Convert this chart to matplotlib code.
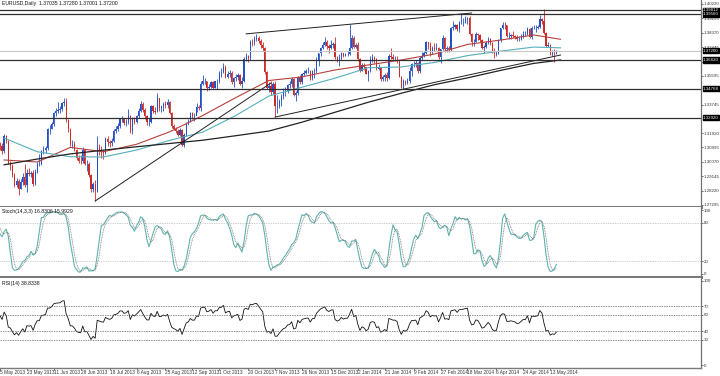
import numpy as np
import pandas as pd
import matplotlib
matplotlib.use("Agg")
import matplotlib.pyplot as plt
import matplotlib.transforms as mtransforms

plt.rcParams["font.family"] = ["Liberation Sans", "DejaVu Sans"]

# EURUSD daily bars, prices in pips above 1.0000
# first 20 bars (April 2013) are only history for the indicators
first_date = "2013-04-08"
n_hist = 20

opens = [
    3045, 3055, 3070, 3135, 3110, 3110, 3050, 3190, 3035, 3050, 3050, 3030, 2995, 3020, 3035, 3030, 3085, 3170, 3185, 3110,
    3115, 3110, 3075, 3175, 3140, 2995, 2980, 2920, 2860, 2885, 2835, 2875, 2910, 2855, 2935, 2930, 2935, 2865, 2940, 2995,
    2995, 3075, 3085, 3095, 3220, 3220, 3250, 3320, 3335, 3340, 3345, 3385, 3395, 3275, 3220, 3120, 3120, 3085, 3030, 3015,
    3010, 3085, 2990, 2995, 2920, 2830, 2865, 2820, 3100, 3085, 3070, 3065, 3155, 3135, 3125, 3140, 3205, 3215, 3235, 3280, 3280, 3255, 3265,
    3300, 3205, 3280, 3265, 3300, 3335, 3380, 3340, 3300, 3265, 3265, 3365, 3335, 3330, 3415, 3355, 3360, 3380, 3370, 3395, 3320, 3240,
    3220, 3205, 3180, 3210, 3115, 3180, 3255, 3270, 3320, 3300, 3300, 3360, 3355, 3505, 3525, 3525, 3480, 3490, 3520, 3485, 3525,
    3525, 3580, 3585, 3620, 3555, 3575, 3580, 3520, 3545, 3555, 3565, 3510, 3525, 3670, 3685, 3675, 3780, 3775, 3800, 3805, 3785, 3760, 3740,
    3585, 3485, 3495, 3455, 3510, 3365, 3365, 3400, 3430, 3455, 3465, 3500, 3505, 3540, 3440, 3450, 3555, 3520, 3570, 3580, 3590,
    3590, 3545, 3590, 3590, 3665, 3705, 3740, 3760, 3780, 3750, 3740, 3760, 3765, 3680, 3665, 3675, 3705, 3690, 3700, 3700, 3740, 3805,
    3745, 3760, 3670, 3590, 3630, 3615, 3575, 3590, 3665, 3675, 3670, 3605, 3615, 3540, 3550, 3565, 3545, 3690, 3680, 3670, 3670, 3655, 3555,
    3485, 3525, 3515, 3530, 3590, 3635, 3635, 3640, 3590, 3675, 3690, 3710, 3780, 3765, 3720, 3740, 3735, 3740, 3680, 3730,
    3805, 3735, 3740, 3730, 3865, 3875, 3885, 3860, 3905, 3910, 3915, 3925, 3930, 3830, 3775, 3780, 3830, 3825, 3790, 3740, 3745,
    3770, 3795, 3770, 3720, 3700, 3705, 3790, 3865, 3890, 3885, 3815, 3815, 3820, 3815, 3810, 3795, 3800, 3815, 3830, 3830, 3860, 3810,
    3870, 3870, 3870, 3875, 3925, 3910, 3835, 3755, 3760, 3700, 3710, 3704,
]
highs = [
    3075, 3085, 3140, 3140, 3130, 3120, 3200, 3200, 3075, 3085, 3075, 3045, 3035, 3055, 3055, 3095, 3175, 3205, 3195, 3175,
    3135, 3125, 3185, 3180, 3145, 3010, 2995, 2935, 2905, 2895, 2895, 2935, 2990, 2960, 2965, 2945, 2955, 2960, 3005, 3060,
    3085, 3110, 3110, 3225, 3245, 3260, 3325, 3350, 3390, 3365, 3395, 3415, 3415, 3285, 3225, 3150, 3140, 3090, 3050, 3050,
    3100, 3090, 3020, 3005, 2930, 2875, 2890, 3170, 3120, 3110, 3085, 3165, 3175, 3150, 3160, 3215, 3235, 3255, 3290, 3300, 3290, 3280, 3345,
    3310, 3295, 3295, 3310, 3350, 3400, 3395, 3350, 3310, 3290, 3370, 3375, 3360, 3450, 3420, 3375, 3390, 3400, 3410, 3400, 3330, 3250,
    3230, 3220, 3225, 3220, 3190, 3260, 3285, 3325, 3330, 3320, 3385, 3370, 3525, 3568, 3545, 3530, 3505, 3530, 3525, 3530, 3540,
    3590, 3610, 3645, 3630, 3590, 3595, 3590, 3550, 3575, 3580, 3575, 3555, 3680, 3705, 3695, 3790, 3800, 3815, 3832, 3815, 3795, 3775, 3745,
    3590, 3520, 3530, 3520, 3525, 3435, 3410, 3445, 3480, 3490, 3510, 3530, 3550, 3545, 3465, 3560, 3565, 3580, 3600, 3605, 3620,
    3600, 3600, 3610, 3680, 3710, 3745, 3780, 3810, 3790, 3765, 3790, 3780, 3810, 3690, 3700, 3715, 3710, 3705, 3720, 3893, 3825, 3815,
    3770, 3775, 3675, 3645, 3645, 3620, 3600, 3685, 3700, 3690, 3675, 3635, 3620, 3565, 3580, 3585, 3700, 3740, 3700, 3685, 3690, 3660, 3560,
    3540, 3535, 3545, 3620, 3645, 3655, 3665, 3650, 3685, 3715, 3720, 3785, 3775, 3775, 3755, 3770, 3770, 3745, 3735, 3825,
    3810, 3755, 3755, 3875, 3915, 3895, 3895, 3915, 3967, 3935, 3945, 3940, 3945, 3835, 3800, 3845, 3835, 3830, 3800, 3760, 3785,
    3810, 3805, 3780, 3740, 3720, 3800, 3870, 3905, 3905, 3890, 3840, 3830, 3850, 3825, 3820, 3815, 3830, 3850, 3850, 3875, 3865, 3880,
    3885, 3890, 3890, 3950, 3935, 3993, 3840, 3775, 3765, 3725, 3735, 3728,
]
lows = [
    3030, 3045, 3060, 3095, 3080, 3035, 3045, 3030, 3010, 3030, 3015, 2955, 2985, 3005, 3010, 3025, 3075, 3150, 3090, 3080,
    3085, 3060, 3065, 3125, 2990, 2955, 2910, 2845, 2845, 2795, 2830, 2860, 2845, 2815, 2915, 2910, 2850, 2860, 2935, 2980,
    2985, 3060, 3065, 3085, 3185, 3215, 3240, 3300, 3320, 3320, 3335, 3365, 3265, 3200, 3110, 3095, 3075, 3020, 3000, 2995,
    3000, 2985, 2945, 2910, 2810, 2810, 2755, 2810, 3050, 3030, 3025, 3055, 3110, 3100, 3110, 3135, 3190, 3205, 3225, 3260, 3245, 3240, 3250,
    3190, 3185, 3250, 3255, 3290, 3325, 3325, 3285, 3245, 3240, 3255, 3320, 3315, 3325, 3335, 3325, 3335, 3350, 3355, 3315, 3225, 3210,
    3195, 3170, 3175, 3110, 3105, 3175, 3245, 3260, 3280, 3270, 3330, 3340, 3335, 3500, 3505, 3465, 3470, 3480, 3475, 3480, 3475,
    3515, 3550, 3580, 3545, 3545, 3555, 3505, 3490, 3525, 3535, 3500, 3480, 3520, 3655, 3650, 3665, 3755, 3760, 3785, 3770, 3740, 3720, 3575,
    3475, 3455, 3440, 3445, 3295, 3320, 3355, 3365, 3410, 3430, 3450, 3485, 3490, 3430, 3400, 3440, 3510, 3510, 3560, 3570, 3580,
    3535, 3535, 3545, 3580, 3625, 3690, 3730, 3750, 3735, 3710, 3735, 3740, 3670, 3650, 3625, 3665, 3680, 3685, 3690, 3695, 3730, 3740,
    3740, 3655, 3585, 3590, 3600, 3570, 3530, 3585, 3650, 3640, 3600, 3595, 3525, 3525, 3530, 3525, 3540, 3670, 3660, 3655, 3640, 3550, 3480,
    3477, 3500, 3505, 3515, 3560, 3620, 3620, 3580, 3580, 3665, 3680, 3700, 3735, 3685, 3700, 3720, 3725, 3670, 3645, 3725,
    3715, 3715, 3715, 3720, 3855, 3860, 3850, 3845, 3895, 3880, 3900, 3895, 3820, 3750, 3750, 3775, 3790, 3780, 3735, 3705, 3740,
    3765, 3760, 3705, 3673, 3685, 3700, 3775, 3860, 3860, 3810, 3795, 3800, 3805, 3800, 3785, 3785, 3790, 3805, 3815, 3825, 3805, 3800,
    3860, 3840, 3860, 3865, 3895, 3830, 3745, 3745, 3695, 3690, 3648, 3700,
]
closes = [
    3055, 3070, 3135, 3110, 3110, 3050, 3190, 3035, 3050, 3050, 3030, 2995, 3020, 3035, 3030, 3085, 3170, 3185, 3110, 3115,
    3110, 3075, 3175, 3140, 2995, 2980, 2920, 2860, 2885, 2835, 2875, 2910, 2855, 2935, 2930, 2935, 2865, 2940, 2995, 2995,
    3075, 3085, 3095, 3220, 3220, 3250, 3320, 3335, 3340, 3345, 3385, 3395, 3275, 3220, 3120, 3120, 3085, 3030, 3015, 3010,
    3085, 2990, 2995, 2920, 2830, 2865, 2820, 3100, 3085, 3070, 3065, 3155, 3135, 3125, 3140, 3205, 3215, 3235, 3280, 3280, 3255, 3265, 3300,
    3205, 3280, 3265, 3300, 3335, 3380, 3340, 3300, 3265, 3265, 3365, 3335, 3330, 3415, 3355, 3360, 3380, 3370, 3395, 3320, 3240, 3220,
    3205, 3180, 3210, 3115, 3180, 3255, 3270, 3320, 3300, 3300, 3360, 3355, 3505, 3525, 3525, 3480, 3490, 3520, 3485, 3525, 3525,
    3580, 3585, 3620, 3555, 3575, 3580, 3520, 3545, 3555, 3565, 3510, 3525, 3670, 3685, 3675, 3780, 3775, 3800, 3805, 3785, 3760, 3740, 3585,
    3485, 3495, 3455, 3510, 3365, 3365, 3400, 3430, 3455, 3465, 3500, 3505, 3540, 3440, 3450, 3555, 3520, 3570, 3580, 3590, 3590,
    3545, 3590, 3590, 3665, 3705, 3740, 3760, 3780, 3750, 3740, 3760, 3765, 3680, 3665, 3675, 3705, 3690, 3700, 3700, 3740, 3805, 3745,
    3760, 3670, 3590, 3630, 3615, 3575, 3590, 3665, 3675, 3670, 3605, 3615, 3540, 3550, 3565, 3545, 3690, 3680, 3670, 3670, 3655, 3555, 3485,
    3525, 3515, 3530, 3590, 3635, 3635, 3640, 3590, 3675, 3690, 3710, 3780, 3765, 3720, 3740, 3735, 3740, 3680, 3730, 3805,
    3735, 3740, 3730, 3865, 3875, 3885, 3860, 3905, 3910, 3915, 3925, 3930, 3830, 3775, 3780, 3830, 3825, 3790, 3740, 3745, 3770,
    3795, 3770, 3720, 3700, 3705, 3790, 3865, 3890, 3885, 3815, 3815, 3820, 3815, 3810, 3795, 3800, 3815, 3830, 3830, 3860, 3810, 3870,
    3870, 3870, 3875, 3925, 3910, 3835, 3755, 3760, 3700, 3710, 3704, 3720,
]

# moving averages (bar number counted from 6 May 2013)
ma_bars = [2, 18, 34, 50, 66, 82, 98, 114, 130, 146, 162, 178, 194, 210, 226, 242, 258, 271]
ma_red = [1.3019, 1.3006, 1.3100, 1.3072, 1.3120, 1.3200, 1.3305, 1.3420, 1.3530, 1.3553, 1.3598,
          1.3630, 1.3662, 1.3700, 1.3762, 1.3790, 1.3823, 1.3795]
ma_teal = [1.3160, 1.3072, 1.3040, 1.3038, 1.3083, 1.3145, 1.3198, 1.3305, 1.3430, 1.3487, 1.3545,
           1.3612, 1.3617, 1.3646, 1.3690, 1.3719, 1.3745, 1.3740]
ma_black = [1.2988, 1.3025, 1.3058, 1.3082, 1.3104, 1.3125, 1.3146, 1.3175, 1.3205, 1.3262, 1.3326,
            1.3390, 1.3448, 1.3503, 1.3547, 1.3595, 1.3640, 1.3662]

# trend lines: start bar/price, end bar/price
tl_bar0 = [46, 133, 119]
tl_px0 = [1.2755, 1.3295, 1.3830]
tl_bar1 = [131, 271, 228]
tl_px1 = [1.3514, 1.3694, 1.3964]

levels = [1.39812, 1.39560, 1.36620, 1.34768, 1.32920]
last_price = 1.37200

price_ticks = [1.40220, 1.39295, 1.38370, 1.37445, 1.36520, 1.35595, 1.33745,
               1.31920, 1.30995, 1.30070, 1.29145, 1.28220, 1.27295]

date_labels = ["5 May 2013", "23 May 2013", "11 Jun 2013", "28 Jun 2013", "18 Jul 2013", "6 Aug 2013",
               "25 Aug 2013", "12 Sep 2013", "1 Oct 2013", "20 Oct 2013", "7 Nov 2013", "26 Nov 2013",
               "15 Dec 2013", "2 Jan 2014", "21 Jan 2014", "9 Feb 2014", "27 Feb 2014", "18 Mar 2014",
               "6 Apr 2014", "24 Apr 2014", "13 May 2014"]

title = "EURUSD,Daily  1.37035 1.37280 1.37001 1.37200"
stoch_title = "Stoch(14,3,3) 16.8306 15.9929"
rsi_title = "RSI(14) 38.8338"

o = 1 + np.array(opens) / 1e4
h = 1 + np.array(highs) / 1e4
l = 1 + np.array(lows) / 1e4
c = 1 + np.array(closes) / 1e4
x = np.arange(len(c)) - n_hist
dates = pd.bdate_range(first_date, periods=len(c))

# indicators
cs, hs, ls = pd.Series(c), pd.Series(h), pd.Series(l)
hh = hs.rolling(14).max()
ll = ls.rolling(14).min()
k = (cs - ll).rolling(3).sum() / (hh - ll).rolling(3).sum() * 100
d = k.rolling(3).mean()
delta = cs.diff()
gain = delta.clip(lower=0).ewm(alpha=1 / 14, adjust=False).mean()
loss = (-delta.clip(upper=0)).ewm(alpha=1 / 14, adjust=False).mean()
rsi = 100 - 100 / (1 + gain / loss)

fs = 3.2
fig = plt.figure(figsize=(7.2, 3.76), dpi=100)
W = 701 / 720
ax1 = fig.add_axes([0, 169 / 376, W, 207 / 376])
ax2 = fig.add_axes([0, 99 / 376, W, 70 / 376], sharex=ax1)
ax3 = fig.add_axes([0, 8 / 376, W, 90 / 376], sharex=ax1)

for ax in (ax1, ax2, ax3):
    ax.spines["left"].set_visible(False)
    ax.spines["top"].set_visible(False)
    ax.spines["right"].set_color("#707070")
    ax.spines["right"].set_linewidth(0.9)
    ax.spines["bottom"].set_color("#7a7a7a")
    ax.yaxis.tick_right()
    ax.tick_params(axis="y", labelsize=fs, length=1.5, width=0.5, pad=0.6, colors="#333333")
    ax.tick_params(axis="x", labelsize=fs + 0.2, length=1.5, width=0.5, pad=0.2, colors="#333333")
ax1.spines["bottom"].set_linewidth(2.2)
ax2.spines["bottom"].set_linewidth(2.2)
ax3.spines["bottom"].set_linewidth(1.0)

ax1.set_xlim(2.44, 338.9)
ax1.set_ylim(1.27166, 1.40477)

# candles
bull = c >= o
col = np.where(bull, "#2450c4", "#cc2b28")
ax1.vlines(x, l, h, colors=col, lw=0.6)
ax1.bar(x, np.maximum(np.abs(c - o), 0.00008), bottom=np.minimum(o, c), width=0.62,
        color=col, lw=0)

ax1.plot(ma_bars, ma_red, color="#b5403a", lw=0.8)
ax1.plot(ma_bars, ma_teal, color="#55aebd", lw=0.8)
ax1.plot(ma_bars, ma_black, color="#222222", lw=0.9)

for b0, p0, b1, p1 in zip(tl_bar0, tl_px0, tl_bar1, tl_px1):
    ax1.plot([b0, b1], [p0, p1], color="#202020", lw=0.7)

for lv in levels:
    ax1.axhline(lv, color="#303030", lw=0.9)
ax1.axhline(last_price, color="#c8c8c8", lw=0.8)

ax1.set_yticks(price_ticks)
ax1.set_yticklabels([f"{v:.5f}" for v in price_ticks])
trans = mtransforms.blended_transform_factory(ax1.transAxes, ax1.transData)
for lv in levels + [last_price]:
    ax1.text(1.003, lv, f"{lv:.5f}", transform=trans, fontsize=fs, color="white",
             va="center", ha="left", zorder=5,
             bbox=dict(boxstyle="square,pad=0.12", fc="black", ec="black"), clip_on=False)
plt.setp(ax1.get_xticklabels(), visible=False)
ax1.tick_params(axis="x", length=0)

# stochastic
ax2.set_ylim(-4.7, 104.7)
ax2.plot(x, k, color="#5fb3ad", lw=0.8)
ax2.plot(x, d, color="#707070", lw=0.6, ls=(0, (1, 1)))
for lv in (80, 20):
    ax2.axhline(lv, color="#a0a0a0", lw=0.5, ls=(0, (1, 1.5)))
ax2.set_yticks([100, 80, 20, 0])
ax2.set_yticklabels(["100", "80", "20", "0"])
plt.setp(ax2.get_xticklabels(), visible=False)
ax2.tick_params(axis="x", length=0)

# RSI
ax3.set_ylim(-3.5, 103.5)
ax3.plot(x, rsi, color="#111111", lw=0.6)
for lv in (70, 60, 40, 30):
    ax3.axhline(lv, color="#606060", lw=0.5, ls=(0, (2, 1.5)))
ax3.set_yticks([100, 70, 60, 40, 30, 0])
ax3.set_yticklabels(["100", "70", "60", "40", "30", "0"])

label_bars = [dates.searchsorted(pd.Timestamp(s)) - n_hist for s in date_labels]
ax3.set_xticks(label_bars)
ax3.set_xticklabels(date_labels, ha="left")

fig.text(2 / 720, 1 - 4 / 376, title, fontsize=fs + 0.5, va="center", ha="left", color="#111111")
fig.text(2 / 720, 1 - 212 / 376, stoch_title, fontsize=fs + 0.5, va="center", ha="left", color="#111111")
fig.text(2 / 720, 1 - 283 / 376, rsi_title, fontsize=fs + 0.5, va="center", ha="left", color="#111111")

fig.savefig("out.png", dpi=100)
